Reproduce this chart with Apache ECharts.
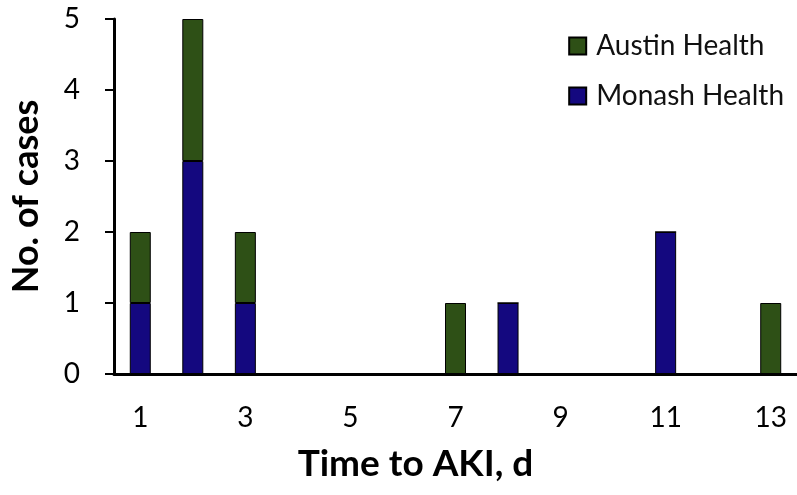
<!DOCTYPE html>
<html>
<head>
<meta charset="utf-8">
<script src="https://cdn.jsdelivr.net/npm/echarts@6/dist/echarts.min.js"></script>
<style>
  html, body { margin: 0; padding: 0; background: #fff; }
  #chart { width: 797px; height: 495px; }
</style>
</head>
<body>
<div id="chart"></div>
<script>
// days after start
const days = ['1', '2', '3', '4', '5', '6', '7', '8', '9', '10', '11', '12', '13']
// cases per day
const monash = [1, 3, 1, 0, 0, 0, 0, 1, 0, 0, 2, 0, 0]
const austin = [1, 2, 1, 0, 0, 0, 1, 0, 0, 0, 0, 0, 1]
const yTicks = [0, 1, 2, 3, 4, 5]

const font = 'Lato'
const chart = echarts.init(document.getElementById('chart'))

chart.setOption({
  animation: false,
  textStyle: { fontFamily: font },
  legend: {
    data: ['Austin Health', 'Monash Health'],
    orient: 'vertical',
    right: 8,
    top: 27,
    itemWidth: 17,
    itemHeight: 17,
    itemGap: 22,
    icon: 'rect',
    textStyle: { fontSize: 28, color: '#111', fontFamily: font, padding: [0, 0, 0, 5] }
  },
  grid: { left: 109, right: 0, top: 19, bottom: 121 },
  xAxis: {
    type: 'category',
    data: days,
    name: 'Time to AKI, d',
    nameLocation: 'middle',
    nameGap: 72,
    nameTextStyle: { fontSize: 37, fontWeight: 'bold', color: '#000', fontFamily: font, padding: [0, 80, 0, 0] },
    axisLine: { lineStyle: { color: '#000', width: 3 } },
    axisTick: { show: false },
    axisLabel: { interval: 1, fontSize: 28, color: '#000', margin: 30 }
  },
  yAxis: {
    type: 'value',
    min: yTicks[0],
    max: yTicks[yTicks.length - 1],
    interval: 1,
    name: 'No. of cases',
    nameLocation: 'middle',
    nameGap: 70,
    nameTextStyle: { fontSize: 36, fontWeight: 'bold', color: '#000', fontFamily: font },
    axisLine: { show: true, lineStyle: { color: '#000', width: 3 } },
    axisTick: { show: true, length: 9, lineStyle: { color: '#000', width: 2 } },
    axisLabel: { fontSize: 28, color: '#000', margin: 34 },
    splitLine: { show: false }
  },
  series: [
    {
      name: 'Monash Health',
      type: 'bar',
      stack: 'total',
      data: monash,
      barWidth: 21,
      itemStyle: { color: '#14087f', borderColor: '#000', borderWidth: 1 }
    },
    {
      name: 'Austin Health',
      type: 'bar',
      stack: 'total',
      data: austin,
      barWidth: 21,
      itemStyle: { color: '#2e5016', borderColor: '#000', borderWidth: 1 }
    }
  ]
})
</script>
</body>
</html>
